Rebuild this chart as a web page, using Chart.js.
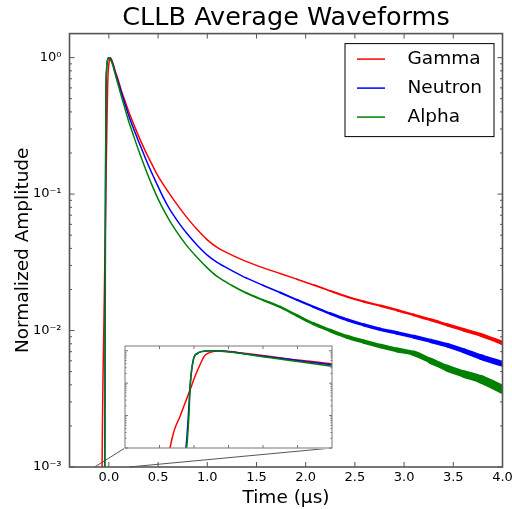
<!DOCTYPE html>
<html>
<head>
<meta charset="utf-8">
<script src="https://cdn.jsdelivr.net/npm/chart.js@4.4.1/dist/chart.umd.min.js"></script>
<style>
  html, body { margin: 0; padding: 0; background: #fff; }
  #wrap { position: relative; width: 512px; height: 509px; }
  #main { position: absolute; left: 0; top: 0; }
  #inset { position: absolute; left: 124px; top: 345px; background: #fff; }
</style>
</head>
<body>
<div id="wrap">
  <canvas id="main" width="512" height="509"></canvas>
  <canvas id="inset" width="209" height="104"></canvas>
</div>
<script>
// --- DADOS ---
const seriesNames = ['Gamma', 'Neutron', 'Alpha'];

const gammaTime = [-0.075, -0.069, -0.066, -0.0605, -0.052, -0.0436, -0.035, -0.0267, -0.0182, -0.0114,
  -0.0042, 0.007, 0.017, 0.032, 0.045, 0.06, 0.094, 0.128, 0.162, 0.196,
  0.23, 0.264, 0.30, 0.366, 0.42, 0.467, 0.52, 0.569, 0.64, 0.722,
  0.80, 0.90, 1.0, 1.1, 1.25, 1.40, 1.57, 1.74, 1.91, 2.08,
  2.25, 2.42, 2.59, 2.76, 2.93, 3.10, 3.27, 3.44, 3.61, 3.78,
  4.0];
const gammaAmp = [0.0007, 0.001, 0.0018, 0.0041, 0.0094, 0.024, 0.062, 0.16, 0.37, 0.66,
  0.84, 0.97, 1.0, 0.95, 0.89, 0.817, 0.69, 0.57, 0.485, 0.414,
  0.357, 0.31, 0.268, 0.21, 0.175, 0.15, 0.128, 0.113, 0.095, 0.0786,
  0.0664, 0.0547, 0.0462, 0.0407, 0.0357, 0.0320, 0.0288, 0.0262, 0.0238, 0.0216,
  0.0195, 0.0177, 0.0163, 0.0152, 0.0141, 0.0130, 0.0120, 0.0110, 0.0101, 0.0093,
  0.0081];

const neutronTime = [-0.047, -0.042, -0.038, -0.0345, -0.0295, -0.0225, -0.0115, 0.0, 0.012, 0.024,
  0.04, 0.06, 0.094, 0.128, 0.162, 0.205, 0.257, 0.30, 0.35, 0.416,
  0.48, 0.55, 0.613, 0.66, 0.722, 0.80, 0.90, 1.0, 1.1, 1.25,
  1.40, 1.57, 1.74, 1.91, 2.08, 2.25, 2.42, 2.59, 2.76, 2.93,
  3.10, 3.27, 3.44, 3.61, 3.78, 4.0];
const neutronAmp = [0.0006, 0.001, 0.0093, 0.1, 0.52, 0.83, 0.97, 1.0, 0.99, 0.96,
  0.90, 0.80, 0.664, 0.553, 0.461, 0.370, 0.294, 0.245, 0.200, 0.154,
  0.122, 0.0955, 0.0786, 0.0695, 0.060, 0.0507, 0.042, 0.0357, 0.0316, 0.0275,
  0.0242, 0.0214, 0.0190, 0.0168, 0.0149, 0.0133, 0.0120, 0.0110, 0.0102, 0.0096,
  0.0090, 0.0084, 0.0078, 0.0071, 0.0064, 0.0057];

const alphaTime = [-0.048, -0.041, -0.037, -0.0345, -0.0295, -0.0225, -0.0115, -0.003, 0.01, 0.022,
  0.04, 0.06, 0.094, 0.128, 0.162, 0.205, 0.236, 0.30, 0.383, 0.45,
  0.50, 0.563, 0.64, 0.722, 0.80, 0.90, 1.0, 1.1, 1.25, 1.40,
  1.57, 1.74, 1.91, 2.08, 2.25, 2.42, 2.59, 2.76, 2.93, 3.10,
  3.27, 3.44, 3.61, 3.78, 4.0];
const alphaAmp = [0.0006, 0.001, 0.0093, 0.1, 0.52, 0.83, 0.97, 1.0, 0.98, 0.95,
  0.88, 0.776, 0.634, 0.519, 0.427, 0.335, 0.288, 0.211, 0.146, 0.111,
  0.0923, 0.075, 0.060, 0.049, 0.0412, 0.0341, 0.0288, 0.0249, 0.0214, 0.0188,
  0.0167, 0.0149, 0.0129, 0.0112, 0.0100, 0.0090, 0.0083, 0.0077, 0.0072, 0.0068,
  0.0060, 0.0053, 0.0048, 0.0044, 0.0037];

const xTickValues = [0.0, 0.5, 1.0, 1.5, 2.0, 2.5, 3.0, 3.5, 4.0];
const yTickValues = [0.001, 0.01, 0.1, 1];
const yTickLabels = ['10⁻³', '10⁻²', '10⁻¹', '10⁰'];

const X_RANGE = [-0.4, 4.0];
const Y_RANGE = [0.001, 1.5];
const INSET_X_RANGE = [-0.145, 0.205];
const INSET_Y_RANGE = [0.001, 1.4];

// --- ESTILO ---
const CORES = ['#ff0000', '#0000ff', '#008000'];
const LINHA = 1.5;
const RUIDO = 0.035;          // largura extra da faixa de ruído na cauda
const INSET_BOX = { left: 125, top: 346, right: 332, bottom: 448 };

Chart.defaults.font.family = 'DejaVu Sans';
Chart.defaults.color = '#000';

function pontos(tempo, amp) {
  return tempo.map((t, i) => ({ x: t, y: amp[i] }));
}

// ticks menores do eixo log (2..9 por década)
function ticksLog(decadas, max) {
  const out = [];
  decadas.forEach(d => {
    for (let m = 1; m <= 9; m++) {
      const v = m * d;
      if (v <= max) out.push({ v: v, major: m === 1 });
    }
  });
  return out;
}

function larguraRuido(ctx) {
  const t = ctx.p0.parsed.x;
  const v = Math.sqrt(ctx.p0.parsed.y * ctx.p1.parsed.y);
  return t > 0.5 ? Math.max(LINHA, RUIDO / v) : LINHA;
}

function montarDatasets(comRuido) {
  const series = [[gammaTime, gammaAmp], [neutronTime, neutronAmp], [alphaTime, alphaAmp]];
  return series.map((s, i) => ({
    label: seriesNames[i],
    data: pontos(s[0], s[1]),
    borderColor: CORES[i],
    borderWidth: LINHA,
    borderCapStyle: 'round',
    borderJoinStyle: 'round',
    pointRadius: 0,
    cubicInterpolationMode: 'monotone',
    order: 2 - i,
    clip: 0,
    segment: comRuido ? { borderWidth: larguraRuido } : undefined
  }));
}

// moldura + ticks para dentro
function molduraTicks(cfg) {
  return {
    id: 'molduraTicks',
    afterDatasetsDraw(chart) {
      const { ctx, chartArea: a, scales: { x, y } } = chart;
      ctx.save();
      ctx.strokeStyle = cfg.cor;
      ctx.lineWidth = cfg.tickW;
      ctx.beginPath();
      cfg.xTicks.forEach(t => {
        const px = x.getPixelForValue(t.v);
        const len = t.major ? cfg.maior : cfg.menor;
        ctx.moveTo(px, a.bottom); ctx.lineTo(px, a.bottom - len);
        ctx.moveTo(px, a.top); ctx.lineTo(px, a.top + len);
      });
      cfg.yTicks.forEach(t => {
        const py = y.getPixelForValue(t.v);
        const len = t.major ? cfg.maior : cfg.menor;
        ctx.moveTo(a.left, py); ctx.lineTo(a.left + len, py);
        ctx.moveTo(a.right, py); ctx.lineTo(a.right - len, py);
      });
      ctx.stroke();
      ctx.lineWidth = cfg.molduraW;
      ctx.strokeRect(a.left, a.top, a.right - a.left, a.bottom - a.top);
      ctx.restore();
    }
  };
}

const conectores = {
  id: 'conectores',
  beforeDatasetsDraw(chart) {
    const { ctx, scales: { x, y } } = chart;
    const yb = y.getPixelForValue(INSET_Y_RANGE[0]);
    ctx.save();
    ctx.strokeStyle = '#555';
    ctx.lineWidth = 1;
    ctx.beginPath();
    ctx.moveTo(INSET_BOX.left, INSET_BOX.bottom);
    ctx.lineTo(x.getPixelForValue(INSET_X_RANGE[0]), yb);
    ctx.moveTo(INSET_BOX.right, INSET_BOX.bottom);
    ctx.lineTo(x.getPixelForValue(INSET_X_RANGE[1]), yb);
    ctx.stroke();
    ctx.restore();
  }
};

const legendaInterna = {
  id: 'legendaInterna',
  afterDraw(chart) {
    const { ctx, chartArea: a } = chart;
    const bx = a.right - 158, by = a.top + 9.5, bw = 149, bh = 93;
    ctx.save();
    ctx.fillStyle = '#fff';
    ctx.fillRect(bx, by, bw, bh);
    ctx.strokeStyle = '#000';
    ctx.lineWidth = 1;
    ctx.strokeRect(bx + 0.5, by + 0.5, bw, bh);
    ctx.font = '18.5px "DejaVu Sans"';
    ctx.textBaseline = 'middle';
    chart.data.datasets.forEach((ds, i) => {
      const yy = by + 16 + i * 29;
      ctx.strokeStyle = ds.borderColor;
      ctx.lineWidth = 1.5;
      ctx.beginPath();
      ctx.moveTo(bx + 12.5, yy); ctx.lineTo(bx + 40.5, yy);
      ctx.stroke();
      ctx.fillStyle = '#000';
      ctx.fillText(ds.label, bx + 63, yy);
    });
    ctx.restore();
  }
};

// --- GRÁFICO PRINCIPAL ---
const ticksMain = ticksLog(yTickValues, Y_RANGE[1]);

new Chart(document.getElementById('main'), {
  type: 'line',
  data: { datasets: montarDatasets(true) },
  options: {
    responsive: false,
    animation: false,
    events: [],
    devicePixelRatio: 1,
    layout: { padding: { left: 0, right: 9.5, top: 0, bottom: 0 } },
    plugins: {
      legend: { display: false },
      tooltip: { enabled: false },
      title: {
        display: true,
        fullSize: false,
        text: 'CLLB Average Waveforms',
        font: { size: 25.5, weight: 'normal' },
        color: '#000',
        padding: { top: 3, bottom: 0 }
      }
    },
    scales: {
      x: {
        type: 'linear',
        min: X_RANGE[0],
        max: X_RANGE[1],
        grid: { display: false, drawTicks: false },
        border: { display: false },
        afterBuildTicks: s => { s.ticks = xTickValues.map(v => ({ value: v })); },
        afterFit: s => { s.height = 42; s.paddingLeft = 0; s.paddingRight = 0; },
        ticks: {
          autoSkip: false,
          maxRotation: 0,
          padding: 3,
          font: { size: 13 },
          color: '#000',
          callback: v => v.toFixed(1)
        },
        title: {
          display: true,
          text: 'Time (μs)',
          font: { size: 18.5 },
          color: '#000',
          padding: { top: 0, bottom: 0 }
        }
      },
      y: {
        type: 'logarithmic',
        min: Y_RANGE[0],
        max: Y_RANGE[1],
        grid: { display: false, drawTicks: false },
        border: { display: false },
        afterBuildTicks: s => {
          s.ticks = ticksMain.map(t => ({ value: t.v, isMajor: t.major }));
        },
        afterFit: s => { s.width = 69.5; s.paddingTop = 0; s.paddingBottom = 0; },
        ticks: {
          autoSkip: false,
          padding: 8,
          font: { size: 13 },
          color: '#000',
          callback: (v, i, ticks) => {
            if (!ticks[i].isMajor) return '';
            const k = yTickValues.findIndex(d => Math.abs(d - v) / d < 1e-6);
            return k >= 0 ? yTickLabels[k] : '';
          }
        },
        title: {
          display: true,
          text: 'Normalized Amplitude',
          font: { size: 18.5 },
          color: '#000',
          padding: { top: 12, bottom: 0 }
        }
      }
    }
  },
  plugins: [
    conectores,
    molduraTicks({
      xTicks: xTickValues.map(v => ({ v: v, major: true })),
      yTicks: ticksMain,
      maior: 5, menor: 2.5, cor: '#555', tickW: 1, molduraW: 1.6
    }),
    legendaInterna
  ]
});

// --- INSET (zoom na subida) ---
const passoInset = (INSET_X_RANGE[1] - INSET_X_RANGE[0]) / 6;
const ticksInsetX = [1, 2, 3, 4, 5].map(k => ({ v: INSET_X_RANGE[0] + k * passoInset, major: true }));

new Chart(document.getElementById('inset'), {
  type: 'line',
  data: { datasets: montarDatasets(false) },
  options: {
    responsive: false,
    animation: false,
    events: [],
    devicePixelRatio: 1,
    layout: { padding: 1 },
    plugins: { legend: { display: false }, tooltip: { enabled: false } },
    scales: {
      x: { type: 'linear', display: false, min: INSET_X_RANGE[0], max: INSET_X_RANGE[1] },
      y: { type: 'logarithmic', display: false, min: INSET_Y_RANGE[0], max: INSET_Y_RANGE[1] }
    }
  },
  plugins: [
    molduraTicks({
      xTicks: ticksInsetX,
      yTicks: ticksLog(yTickValues, INSET_Y_RANGE[1]),
      maior: 3, menor: 1.5, cor: '#777', tickW: 1, molduraW: 1
    })
  ]
});
</script>
</body>
</html>
